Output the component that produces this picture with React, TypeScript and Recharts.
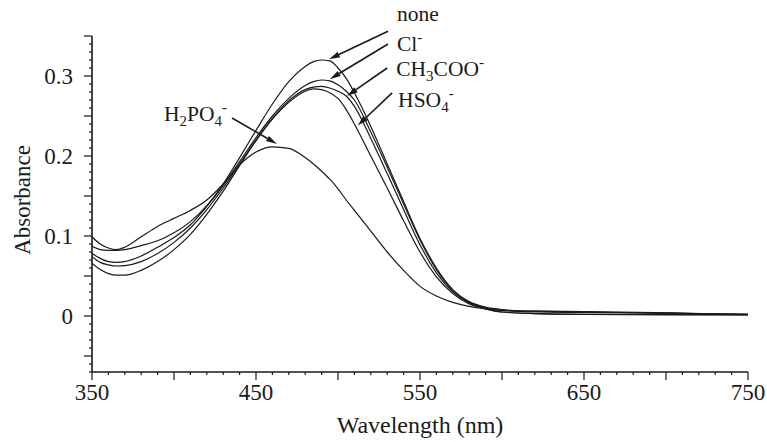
import React from 'react';
import { LineChart, Line, XAxis, YAxis, ReferenceLine } from 'recharts';

const wavelengths = [350, 355, 360, 365, 370, 380, 390, 400, 410, 420, 430, 440, 450, 460, 470, 480, 485, 490, 495, 500, 505, 510, 520, 530, 540, 550, 560, 570, 580, 590, 600, 620, 650, 700, 750];

const noneAbs = [0.087, 0.083, 0.082, 0.082, 0.083, 0.088, 0.094, 0.104, 0.118, 0.138, 0.165, 0.198, 0.232, 0.265, 0.293, 0.312, 0.318, 0.320, 0.319, 0.310, 0.297, 0.279, 0.237, 0.190, 0.143, 0.097, 0.060, 0.033, 0.018, 0.011, 0.008, 0.006, 0.0055, 0.004, 0.002];
const clAbs = [0.078, 0.072, 0.068, 0.067, 0.068, 0.075, 0.086, 0.098, 0.114, 0.137, 0.163, 0.193, 0.223, 0.250, 0.272, 0.288, 0.293, 0.295, 0.294, 0.289, 0.281, 0.270, 0.230, 0.186, 0.140, 0.095, 0.058, 0.032, 0.017, 0.010, 0.007, 0.006, 0.005, 0.0035, 0.002];
const acetateAbs = [0.074, 0.067, 0.064, 0.0625, 0.063, 0.068, 0.078, 0.092, 0.110, 0.133, 0.160, 0.190, 0.220, 0.247, 0.269, 0.283, 0.286, 0.287, 0.285, 0.281, 0.275, 0.262, 0.222, 0.178, 0.133, 0.089, 0.054, 0.030, 0.016, 0.009, 0.005, 0.003, 0.002, 0.002, 0.0015];
const hso4Abs = [0.066, 0.058, 0.053, 0.051, 0.051, 0.057, 0.068, 0.083, 0.102, 0.127, 0.156, 0.188, 0.219, 0.246, 0.267, 0.281, 0.284, 0.283, 0.279, 0.272, 0.258, 0.240, 0.200, 0.160, 0.119, 0.080, 0.049, 0.028, 0.015, 0.009, 0.005, 0.003, 0.002, 0.0015, 0.0015];
const h2po4Abs = [0.099, 0.090, 0.085, 0.083, 0.086, 0.099, 0.112, 0.122, 0.132, 0.145, 0.165, 0.189, 0.205, 0.2115, 0.2095, 0.198, 0.190, 0.181, 0.171, 0.159, 0.145, 0.132, 0.106, 0.080, 0.057, 0.037, 0.025, 0.017, 0.012, 0.009, 0.007, 0.005, 0.0045, 0.0035, 0.002];

const xTickLabels = [350, 450, 550, 650, 750];
const yTickLabels = [0, 0.1, 0.2, 0.3];

const seriesKeys = ['none', 'cl', 'ac', 'hso4', 'h2po4'];

const data = wavelengths.map((wl, i) => ({
  wl,
  none: noneAbs[i],
  cl: clAbs[i],
  ac: acetateAbs[i],
  hso4: hso4Abs[i],
  h2po4: h2po4Abs[i],
}));

const xTicks: number[] = [];
for (let v = 350; v <= 750; v += 10) xTicks.push(v);
const yTicks: number[] = [];
for (let i = -7; i <= 35; i++) yTicks.push(i / 100);

const FONT = '"Liberation Serif", "Times New Roman", serif';
const INK = '#1a1a1a';

type Part = { t: string; sub?: boolean; sup?: boolean };
const annotations: { key: string; tail: [number, number]; tip: [number, number]; parts: Part[]; dx: number; dy: number; anchor: 'start' | 'end' }[] = [
  { key: 'none', tail: [530.5, 0.356], tip: [494.5, 0.321], parts: [{ t: 'none' }], dx: 9, dy: -10, anchor: 'start' },
  { key: 'cl', tail: [530.5, 0.34], tip: [495, 0.296], parts: [{ t: 'Cl' }, { t: '-', sup: true }], dx: 9, dy: 7, anchor: 'start' },
  { key: 'ac', tail: [530, 0.31], tip: [505.5, 0.275], parts: [{ t: 'CH' }, { t: '3', sub: true }, { t: 'COO' }, { t: '-', sup: true }], dx: 9, dy: 8, anchor: 'start' },
  { key: 'hso4', tail: [533, 0.279], tip: [512, 0.238], parts: [{ t: 'HSO' }, { t: '4', sub: true }, { t: '-', sup: true }], dx: 6, dy: 14, anchor: 'start' },
  { key: 'h2po4', tail: [435.4, 0.2475], tip: [462.8, 0.215], parts: [{ t: 'H' }, { t: '2', sub: true }, { t: 'PO' }, { t: '4', sub: true }, { t: '-', sup: true }], dx: -5, dy: 3, anchor: 'end' },
];

function RichText({ x, y, parts, anchor }: { x: number; y: number; parts: Part[]; anchor: 'start' | 'end' }) {
  let cur = 0;
  return (
    <text x={x} y={y} textAnchor={anchor} fontFamily={FONT} fontSize={21.5} fill={INK}>
      {parts.map((p, i) => {
        const target = p.sub ? 5 : p.sup ? -9 : 0;
        const dy = target - cur;
        cur = target;
        return (
          <tspan key={i} dy={dy} fontSize={p.sub || p.sup ? 15 : 21.5}>
            {p.t}
          </tspan>
        );
      })}
    </text>
  );
}

function makeArrow(a: (typeof annotations)[number]) {
  return (props: any) => {
    const { x1, y1, x2, y2 } = props;
    const ang = Math.atan2(y2 - y1, x2 - x1);
    const L = 11;
    const W = 3;
    const bx = x2 - L * Math.cos(ang);
    const by = y2 - L * Math.sin(ang);
    const px = -Math.sin(ang) * W;
    const py = Math.cos(ang) * W;
    return (
      <g>
        <line x1={x1} y1={y1} x2={bx} y2={by} stroke={INK} strokeWidth={1.6} />
        <polygon points={`${x2},${y2} ${bx + px},${by + py} ${bx - px},${by - py}`} fill={INK} />
        <RichText x={x1 + a.dx} y={y1 + a.dy} parts={a.parts} anchor={a.anchor} />
      </g>
    );
  };
}

function XTick(props: any) {
  const { x, y, payload } = props;
  const v = payload.value;
  const isMid = v % 50 === 0;
  const labeled = xTickLabels.includes(v);
  return (
    <g>
      <line x1={x} y1={y} x2={x} y2={y + (isMid ? 8 : 3)} stroke={INK} strokeWidth={1.2} />
      {labeled && (
        <text x={x} y={y + 28} textAnchor="middle" fontFamily={FONT} fontSize={23} fill={INK}>
          {v}
        </text>
      )}
    </g>
  );
}

function YTick(props: any) {
  const { x, y, payload } = props;
  const v = Math.round(payload.value * 100);
  const isMid = v % 5 === 0;
  const lab = yTickLabels.find((t) => Math.round(t * 100) === v);
  return (
    <g>
      <line x1={x - (isMid ? 8 : 3)} y1={y} x2={x} y2={y} stroke={INK} strokeWidth={1.2} />
      {lab !== undefined && (
        <text x={x - 19} y={y + 8} textAnchor="end" fontFamily={FONT} fontSize={23} fill={INK}>
          {String(lab)}
        </text>
      )}
    </g>
  );
}

export default function App() {
  return (
    <div style={{ position: 'absolute', left: 0, top: 0, width: 767, height: 442, background: '#fff' }}>
      <LineChart width={767} height={442} data={data} margin={{ top: 36, right: 19, bottom: 0, left: 0 }}>
        <XAxis
          type="number"
          dataKey="wl"
          domain={[350, 750]}
          ticks={xTicks}
          interval={0}
          tick={(p: any) => <XTick {...p} />}
          tickLine={false}
          tickSize={0}
          tickMargin={0}
          height={70}
          axisLine={{ stroke: INK, strokeWidth: 1.6 }}
          allowDataOverflow
        />
        <YAxis
          type="number"
          domain={[-0.07, 0.35]}
          ticks={yTicks}
          interval={0}
          tick={(p: any) => <YTick {...p} />}
          tickLine={false}
          tickSize={0}
          tickMargin={0}
          width={92}
          axisLine={{ stroke: INK, strokeWidth: 1.6 }}
          allowDataOverflow
        />
        {seriesKeys.map((k) => (
          <Line key={k} dataKey={k} type="monotone" stroke={INK} strokeWidth={1.2} dot={false} isAnimationActive={false} />
        ))}
        {annotations.map((a) => (
          <ReferenceLine
            key={a.key}
            segment={[{ x: a.tail[0], y: a.tail[1] }, { x: a.tip[0], y: a.tip[1] }]}
            ifOverflow="visible"
            shape={makeArrow(a)}
          />
        ))}
        <text x={420} y={433} textAnchor="middle" fontFamily={FONT} fontSize={24} fill={INK}>
          Wavelength (nm)
        </text>
        <text x={0} y={0} transform="translate(30,200) rotate(-90)" textAnchor="middle" fontFamily={FONT} fontSize={23} fill={INK}>
          Absorbance
        </text>
      </LineChart>
    </div>
  );
}
